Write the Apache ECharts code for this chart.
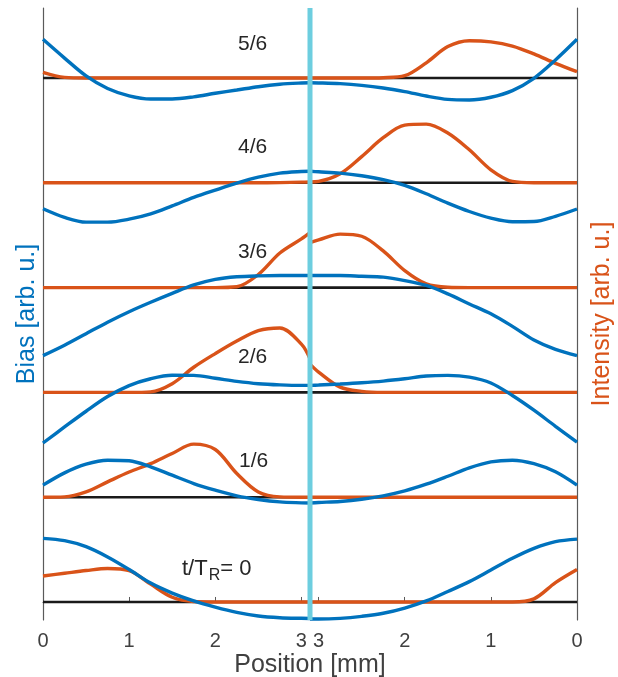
<!DOCTYPE html>
<html>
<head>
<meta charset="utf-8">
<script src="https://cdn.jsdelivr.net/npm/echarts@6/dist/echarts.min.js"></script>
<style>
html,body{margin:0;padding:0;background:#fff;}
#chart{width:618px;height:677px;}
</style>
</head>
<body>
<div id="chart"></div>
<script>
// Half-length of the sample (mm); left half runs 0 -> HALF, right half HALF -> 0
const HALF = 3.1;
const xTickPos = [0, 1, 2, 3];           // tick positions (mm) on each half
const stageNames = ['0', '1/6', '2/6', '3/6', '4/6', '5/6'];
// sampling positions (mm from each outer edge)
const posGrid = [0, 0.25, 0.5, 0.75, 1.0, 1.25, 1.5, 1.75, 2.0, 2.25, 2.5, 2.75, 3.0, 3.1];

// values relative to each stage's baseline (arb. u.)
// Stage t/T_R = 0
const biasL0 = [0.607, 0.585, 0.528, 0.43, 0.31, 0.18, 0.085, 0.01, -0.05, -0.1, -0.134, -0.15, -0.156, -0.157];
const biasR0 = [0.6, 0.576, 0.512, 0.417, 0.305, 0.194, 0.1, 0.01, -0.058, -0.108, -0.137, -0.156, -0.163, -0.163];
const intL0  = [0.248, 0.274, 0.3, 0.32, 0.3, 0.17, 0.045, 0.004, 0, 0, 0, 0, 0, 0];
const intR0  = [0.31, 0.185, 0.03, 0, 0, 0, 0, 0, 0, 0, 0, 0, 0, 0];
// Stage 1/6
const biasL1 = [0.115, 0.232, 0.315, 0.353, 0.347, 0.29, 0.21, 0.13, 0.067, 0.013, -0.022, -0.045, -0.054, -0.056];
const biasR1 = [0.115, 0.242, 0.32, 0.353, 0.337, 0.28, 0.2, 0.124, 0.06, 0.013, -0.02, -0.041, -0.051, -0.056];
const intL1  = [0, 0.003, 0.05, 0.146, 0.24, 0.32, 0.417, 0.506, 0.455, 0.226, 0.05, 0.003, 0, 0];
const intR1  = [0, 0, 0, 0, 0, 0, 0, 0, 0, 0, 0, 0, 0, 0];
// Stage 2/6
const biasL2 = [-0.483, -0.33, -0.18, -0.04, 0.065, 0.13, 0.163, 0.162, 0.135, 0.105, 0.083, 0.072, 0.067, 0.067];
const biasR2 = [-0.474, -0.324, -0.17, -0.03, 0.09, 0.146, 0.162, 0.156, 0.13, 0.108, 0.092, 0.08, 0.07, 0.067];
const intL2  = [0, 0, 0, 0, 0, 0.005, 0.083, 0.24, 0.37, 0.49, 0.59, 0.615, 0.46, 0.32];
const intR2  = [0, 0, 0, 0, 0, 0, 0, 0, 0, 0, 0.01, 0.05, 0.194, 0.27];
// Stage 3/6
const biasL3 = [-0.649, -0.55, -0.44, -0.33, -0.23, -0.14, -0.055, 0.025, 0.078, 0.103, 0.112, 0.115, 0.115, 0.115];
const biasR3 = [-0.649, -0.59, -0.5, -0.37, -0.25, -0.156, -0.06, 0.02, 0.067, 0.1, 0.108, 0.115, 0.115, 0.115];
const intL3  = [0, 0, 0, 0, 0, 0, 0, 0, 0, 0.008, 0.125, 0.33, 0.465, 0.525];
const intR3  = [0, 0, 0, 0, 0, 0, 0.003, 0.035, 0.162, 0.35, 0.49, 0.51, 0.455, 0.43];
// Stage 4/6
const biasL4 = [-0.248, -0.33, -0.375, -0.375, -0.347, -0.296, -0.22, -0.14, -0.07, -0.003, 0.054, 0.092, 0.108, 0.11];
const biasR4 = [-0.25, -0.32, -0.37, -0.372, -0.337, -0.274, -0.194, -0.105, -0.025, 0.03, 0.067, 0.092, 0.105, 0.11];
const intL4  = [0, 0, 0, 0, 0, 0, 0, 0, 0, 0, 0, 0.002, 0.006, 0.008];
const intR4  = [0, 0, 0, 0.013, 0.124, 0.315, 0.475, 0.56, 0.55, 0.43, 0.25, 0.086, 0.013, 0.008];
// Stage 5/6
const biasL5 = [0.369, 0.19, 0.02, -0.1, -0.17, -0.2, -0.2, -0.18, -0.146, -0.115, -0.083, -0.06, -0.048, -0.046];
const biasR5 = [0.369, 0.172, -0.003, -0.12, -0.184, -0.21, -0.204, -0.172, -0.13, -0.095, -0.07, -0.054, -0.047, -0.046];
const intL5  = [0.054, 0.006, 0, 0, 0, 0, 0, 0, 0, 0, 0, 0, 0, 0];
const intR5  = [0.06, 0.14, 0.23, 0.305, 0.345, 0.356, 0.3, 0.145, 0.022, 0.003, 0, 0, 0, 0];

const biasLeft  = [biasL0, biasL1, biasL2, biasL3, biasL4, biasL5];
const biasRight = [biasR0, biasR1, biasR2, biasR3, biasR4, biasR5];
const intLeft   = [intL0, intL1, intL2, intL3, intL4, intL5];
const intRight  = [intR0, intR1, intR2, intR3, intR4, intR5];

const BLUE = '#0072BD', ORANGE = '#D95319', CYAN = '#6DCEDF';
const FONT = 'Liberation Sans, Arial, sans-serif';
const U_MAX = 2 * HALF;

const toLeft  = (vals, k) => vals.map((v, i) => [posGrid[i], k + v]);
const toRight = (vals, k) => vals.map((v, i) => [U_MAX - posGrid[i], k + v]);

const SMOOTH = 0.33;
const series = [];
// baselines
stageNames.forEach((_, k) => {
  series.push({type:'line', data:[[0,k],[U_MAX,k]], showSymbol:false, silent:true,
    lineStyle:{color:'#1a1a1a', width:2.6}, z:1});
});
// intensity
stageNames.forEach((_, k) => {
  [toLeft(intLeft[k], k), toRight(intRight[k], k)].forEach(d => series.push({
    type:'line', data:d, showSymbol:false, smooth:SMOOTH, silent:true,
    lineStyle:{color:ORANGE, width:3.4}, z:2}));
});
// bias
stageNames.forEach((_, k) => {
  [toLeft(biasLeft[k], k), toRight(biasRight[k], k)].forEach(d => series.push({
    type:'line', data:d, showSymbol:false, smooth:SMOOTH, silent:true,
    lineStyle:{color:BLUE, width:3.4}, z:3}));
});
// centre line
const Y_MIN = -0.172, Y_MAX = 5.668;
series.push({type:'line', data:[[HALF, Y_MIN],[HALF, Y_MAX]], showSymbol:false, silent:true,
  lineStyle:{color:CYAN, width:5}, z:5});

const tickU = xTickPos.concat(xTickPos.slice().reverse().map(p => U_MAX - p));

const chart = echarts.init(document.getElementById('chart'), null, {renderer:'canvas'});
const labelPos = [[219,570],[254,463],[253,359],[253,254],[253,149],[253,46]];

chart.setOption({
  animation:false,
  backgroundColor:'#fff',
  grid:{left:43, right:41, top:8, bottom:57, outerBoundsMode:'none', containLabel:false},
  xAxis:{type:'value', min:0, max:U_MAX,
    axisLine:{show:true, lineStyle:{color:'#5a5a5a', width:1.2}},
    axisTick:{show:true, inside:true, length:5, customValues:tickU, lineStyle:{color:'#5a5a5a'}},
    axisLabel:{customValues:tickU, color:'#404040', fontSize:20, fontFamily:FONT, margin:11,
      formatter: v => String(Math.round(v <= HALF ? v : U_MAX - v))},
    splitLine:{show:false},
    name:'Position [mm]', nameLocation:'middle', nameGap:33, nameMoveOverlap:false,
    nameTextStyle:{color:'#404040', fontSize:25, fontFamily:FONT}
  },
  yAxis:[
    {type:'value', min:Y_MIN, max:Y_MAX, position:'left',
      axisLine:{show:true, lineStyle:{color:'#5a5a5a', width:1.2}}, axisTick:{show:false}, axisLabel:{show:false}, splitLine:{show:false},
      name:'Bias [arb. u.]', nameLocation:'middle', nameRotate:90, nameGap:3, nameMoveOverlap:false,
      nameTextStyle:{color:BLUE, fontSize:25, fontFamily:FONT}},
    {type:'value', min:Y_MIN, max:Y_MAX, position:'right',
      axisLine:{show:true, lineStyle:{color:'#5a5a5a', width:1.2}}, axisTick:{show:false}, axisLabel:{show:false}, splitLine:{show:false},
      name:'Intensity [arb. u.]', nameLocation:'middle', nameRotate:90, nameGap:13, nameMoveOverlap:false,
      nameTextStyle:{color:ORANGE, fontSize:25, fontFamily:FONT}}
  ],
  series: series,
  graphic: stageNames.map((s, k) => ({
    type:'text', left: labelPos[k][0] - (k === 0 ? 37 : 15), top: labelPos[k][1] - 12, z:10,
    style: k === 0 ? {
      text:'{a|t/T}{b|R}{a|= 0}',
      rich:{a:{fontSize:22, fontFamily:FONT, fill:'#262626'},
            b:{fontSize:16, fontFamily:FONT, fill:'#262626', padding:[14,0,0,1]}}
    } : {text:s, fontSize:21, fontFamily:FONT, fill:'#262626'}
  }))
});
</script>
</body>
</html>
